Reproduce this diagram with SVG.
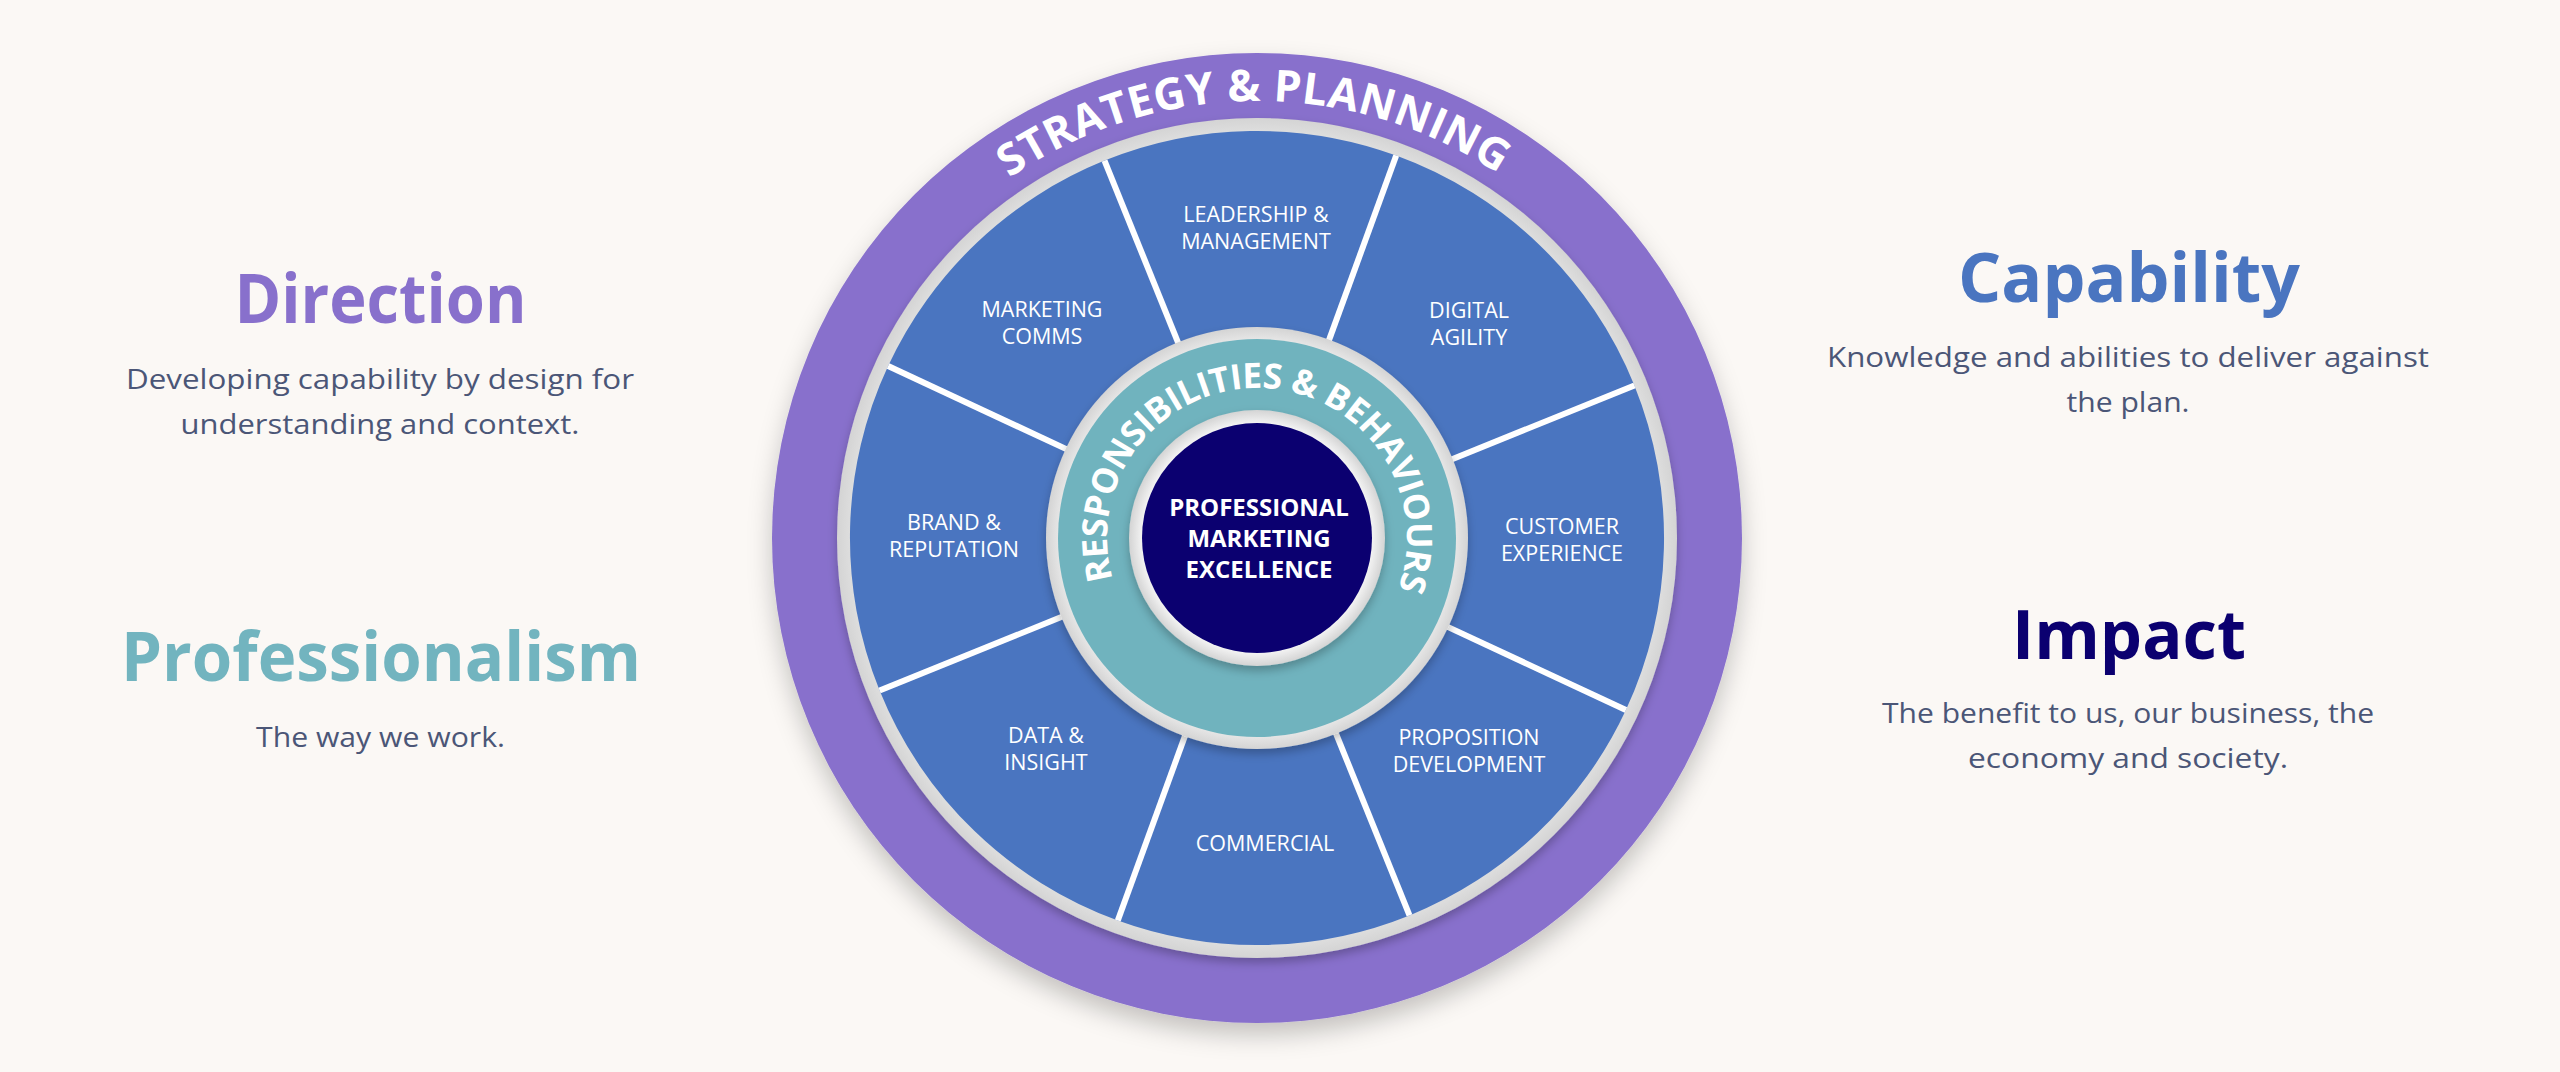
<svg xmlns="http://www.w3.org/2000/svg" xmlns:xlink="http://www.w3.org/1999/xlink" width="2560" height="1072" viewBox="0 0 2560 1072">
  <style>
    .head { font-family: "Open Sans", "Noto Sans", "Liberation Sans", sans-serif; font-weight: 700; font-size: 68px; text-anchor: middle; }
    .para { font-family: "Open Sans", "Noto Sans", "Liberation Sans", sans-serif; font-weight: 400; font-size: 27.5px; fill: #4b5677; text-anchor: middle; }
    .seg { fill: #4a75c0; }
    .lbl { font-family: "Open Sans", "Noto Sans", "Liberation Sans", sans-serif; font-weight: 400; font-size: 21.5px; fill: #ffffff; text-anchor: middle; }
    .ctr { font-family: "Open Sans", "Noto Sans", "Liberation Sans", sans-serif; font-weight: 700; font-size: 24px; fill: #ffffff; text-anchor: middle; }
    .arc { font-family: "Open Sans", "Noto Sans", "Liberation Sans", sans-serif; font-weight: 700; fill: #ffffff; }
    .divider { stroke: #ffffff; stroke-width: 6; stroke-linecap: butt; fill: none; }
  </style>
  <defs>
    <filter id="shadowBig" x="-20%" y="-20%" width="140%" height="150%">
      <feDropShadow dx="0" dy="12" stdDeviation="12" flood-color="#000000" flood-opacity="0.22"/>
    </filter>
    <filter id="shadowSmall" x="-20%" y="-20%" width="140%" height="140%">
      <feDropShadow dx="0" dy="5" stdDeviation="5" flood-color="#000000" flood-opacity="0.25"/>
    </filter>
    <radialGradient id="greyRing" cx="50%" cy="50%" r="50%">
      <stop offset="0.9" stop-color="#f2f2f2"/>
      <stop offset="1" stop-color="#d4d4d4"/>
    </radialGradient>
    <path id="outerArc" d="M 1257,975 A 437 437 0 0 1 1257,101 A 437 437 0 0 1 1257,975"/>
    <path id="innerArc" d="M 1257,688 A 150 150 0 0 1 1257,388 A 150 150 0 0 1 1257,688"/>
  </defs>

  <rect x="0" y="0" width="2560" height="1072" fill="#fbf8f5"/>

  <!-- Outer ring: Strategy & Planning -->
  <g id="strategy-planning">
    <circle cx="1257" cy="538" r="485" fill="#8870cc" filter="url(#shadowBig)"/>
    <text class="arc" font-size="44" transform="rotate(-0.5 1257 538)">
      <textPath xlink:href="#outerArc" href="#outerArc" startOffset="50%" text-anchor="middle" textLength="519" lengthAdjust="spacing">STRATEGY &amp; PLANNING</textPath>
    </text>
  </g>

  <!-- Capability wheel -->
  <g id="wheel-base" filter="url(#shadowSmall)">
    <circle cx="1257" cy="538" r="420" fill="url(#greyRing)"/>
  </g>

  <g id="seg-leadership">
    <path class="seg" d="M 1180.2,347.9 L 1104.5,160.6 A 407 407 0 0 1 1396.2,155.5 L 1327.1,345.4 A 205 205 0 0 0 1180.2,347.9 Z"/>
    <text class="lbl" x="1256" y="222">LEADERSHIP &amp;</text>
    <text class="lbl" x="1256" y="249">MANAGEMENT</text>
  </g>
  <g id="seg-digital">
    <path class="seg" d="M 1327.1,345.4 L 1396.2,155.5 A 407 407 0 0 1 1634.4,385.5 L 1447.1,461.2 A 205 205 0 0 0 1327.1,345.4 Z"/>
    <text class="lbl" x="1469" y="318">DIGITAL</text>
    <text class="lbl" x="1469" y="345">AGILITY</text>
  </g>
  <g id="seg-customer">
    <path class="seg" d="M 1447.1,461.2 L 1634.4,385.5 A 407 407 0 0 1 1625.9,710.0 L 1442.8,624.6 A 205 205 0 0 0 1447.1,461.2 Z"/>
    <text class="lbl" x="1562" y="534">CUSTOMER</text>
    <text class="lbl" x="1562" y="561">EXPERIENCE</text>
  </g>
  <g id="seg-proposition">
    <path class="seg" d="M 1442.8,624.6 L 1625.9,710.0 A 407 407 0 0 1 1409.5,915.4 L 1333.8,728.1 A 205 205 0 0 0 1442.8,624.6 Z"/>
    <text class="lbl" x="1469" y="745">PROPOSITION</text>
    <text class="lbl" x="1469" y="772">DEVELOPMENT</text>
  </g>
  <g id="seg-commercial">
    <path class="seg" d="M 1333.8,728.1 L 1409.5,915.4 A 407 407 0 0 1 1117.8,920.5 L 1186.9,730.6 A 205 205 0 0 0 1333.8,728.1 Z"/>
    <text class="lbl" x="1265" y="851">COMMERCIAL</text>
  </g>
  <g id="seg-data">
    <path class="seg" d="M 1186.9,730.6 L 1117.8,920.5 A 407 407 0 0 1 879.6,690.5 L 1066.9,614.8 A 205 205 0 0 0 1186.9,730.6 Z"/>
    <text class="lbl" x="1046" y="743">DATA &amp;</text>
    <text class="lbl" x="1046" y="770">INSIGHT</text>
  </g>
  <g id="seg-brand">
    <path class="seg" d="M 1066.9,614.8 L 879.6,690.5 A 407 407 0 0 1 888.1,366.0 L 1071.2,451.4 A 205 205 0 0 0 1066.9,614.8 Z"/>
    <text class="lbl" x="954" y="530">BRAND &amp;</text>
    <text class="lbl" x="954" y="557">REPUTATION</text>
  </g>
  <g id="seg-marketing">
    <path class="seg" d="M 1071.2,451.4 L 888.1,366.0 A 407 407 0 0 1 1104.5,160.6 L 1180.2,347.9 A 205 205 0 0 0 1071.2,451.4 Z"/>
    <text class="lbl" x="1042" y="317">MARKETING</text>
    <text class="lbl" x="1042" y="344">COMMS</text>
  </g>

  <g id="dividers">
    <line class="divider" x1="1327.1" y1="345.4" x2="1396.2" y2="155.5"/>
    <line class="divider" x1="1447.1" y1="461.2" x2="1634.4" y2="385.5"/>
    <line class="divider" x1="1442.8" y1="624.6" x2="1625.9" y2="710.0"/>
    <line class="divider" x1="1333.8" y1="728.1" x2="1409.5" y2="915.4"/>
    <line class="divider" x1="1186.9" y1="730.6" x2="1117.8" y2="920.5"/>
    <line class="divider" x1="1066.9" y1="614.8" x2="879.6" y2="690.5"/>
    <line class="divider" x1="1071.2" y1="451.4" x2="888.1" y2="366.0"/>
    <line class="divider" x1="1180.2" y1="347.9" x2="1104.5" y2="160.6"/>
  </g>

  <!-- Responsibilities & Behaviours ring -->
  <g id="responsibilities-behaviours">
    <circle cx="1257" cy="538" r="211" fill="url(#greyRing)" filter="url(#shadowSmall)"/>
    <circle cx="1257" cy="538" r="199" fill="#70b3be"/>
    <text class="arc" font-size="35" transform="rotate(2 1257 538)">
      <textPath xlink:href="#innerArc" href="#innerArc" startOffset="50%" text-anchor="middle" textLength="565" lengthAdjust="spacing">RESPONSIBILITIES &amp; BEHAVIOURS</textPath>
    </text>
  </g>

  <!-- Centre -->
  <g id="professional-marketing-excellence">
    <circle cx="1257" cy="538" r="128" fill="url(#greyRing)" filter="url(#shadowSmall)"/>
    <circle cx="1257" cy="538" r="115" fill="#0b0070"/>
    <text class="ctr" x="1259" y="516">PROFESSIONAL</text>
    <text class="ctr" x="1259" y="547">MARKETING</text>
    <text class="ctr" x="1259" y="578">EXCELLENCE</text>
  </g>

  <!-- Side texts -->
  <g id="direction">
    <text class="head" x="380.5" y="323" fill="#8870cc" textLength="292" lengthAdjust="spacingAndGlyphs">Direction</text>
    <text class="para" x="380" y="389" textLength="508" lengthAdjust="spacingAndGlyphs">Developing capability by design for</text>
    <text class="para" x="380" y="434" textLength="399" lengthAdjust="spacingAndGlyphs">understanding and context.</text>
  </g>
  <g id="professionalism">
    <text class="head" x="381" y="681" fill="#72b4bf" textLength="520" lengthAdjust="spacingAndGlyphs">Professionalism</text>
    <text class="para" x="380.5" y="747" textLength="249" lengthAdjust="spacingAndGlyphs">The way we work.</text>
  </g>
  <g id="capability">
    <text class="head" x="2129" y="302" fill="#4a75c0" textLength="342" lengthAdjust="spacingAndGlyphs">Capability</text>
    <text class="para" x="2128" y="367" textLength="602" lengthAdjust="spacingAndGlyphs">Knowledge and abilities to deliver against</text>
    <text class="para" x="2128" y="412" textLength="123" lengthAdjust="spacingAndGlyphs">the plan.</text>
  </g>
  <g id="impact">
    <text class="head" x="2129" y="659" fill="#0b0070" textLength="234" lengthAdjust="spacingAndGlyphs">Impact</text>
    <text class="para" x="2128" y="723" textLength="492" lengthAdjust="spacingAndGlyphs">The benefit to us, our business, the</text>
    <text class="para" x="2128" y="768" textLength="320" lengthAdjust="spacingAndGlyphs">economy and society.</text>
  </g>
</svg>
